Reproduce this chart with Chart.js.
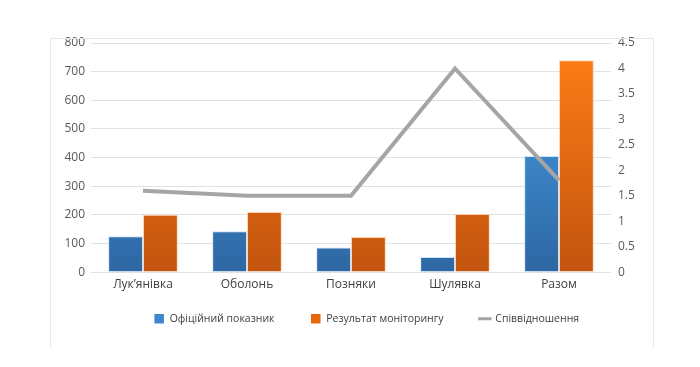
<!DOCTYPE html>
<html>
<head>
<meta charset="utf-8">
<script src="https://cdn.jsdelivr.net/npm/chart.js@4"></script>
<style>
  html, body { margin: 0; padding: 0; background: #fff; }
  #wrap { position: relative; width: 700px; height: 367px; }
  #frame { position: absolute; left: 50px; top: 38px; width: 602px; height: 308px;
           border: 1px solid #e6e6e6; border-bottom: none; pointer-events: none; }
</style>
</head>
<body>
<div id="wrap">
  <canvas id="chart" width="700" height="367"></canvas>
  <div id="frame"></div>
</div>
<script>
const districts = ["Лук’янівка", "Оболонь", "Позняки", "Шулявка", "Разом"];
const officialValues = [125, 143, 86, 53, 405];
const monitoringValues = [200, 210, 123, 203, 740];
const ratioValues = [1.6, 1.5, 1.5, 4.0, 1.8];
const leftTicks = [0, 100, 200, 300, 400, 500, 600, 700, 800];
const rightTicks = [0, 0.5, 1, 1.5, 2, 2.5, 3, 3.5, 4, 4.5];

const font = "'Open Sans', 'Noto Sans', sans-serif";

const gradient = (top, bottom) => (context) => {
    const area = context.chart.chartArea;
    if (!area) return top;
    const g = context.chart.ctx.createLinearGradient(0, area.top, 0, area.bottom);
    g.addColorStop(0, top);
    g.addColorStop(1, bottom);
    return g;
};

const legendColors = ["#3d86cf", "#e5680f", "#a5a5a5"];

// legend padding also sets the gap above the items, so pull the legend up a bit afterwards
const legendNudge = {
    id: "legendNudge",
    afterLayout(chart) {
        const legend = chart.legend;
        legend.top -= 19;
        legend.bottom -= 19;
        legend.left += 16;
        legend.right += 16;
    }
};

new Chart(document.querySelector("#chart").getContext("2d"), {
    data: {
        labels: districts,
        datasets: [{
            type: "line",
            label: "Співвідношення",
            data: ratioValues,
            yAxisID: "y1",
            borderColor: "#a5a5a5",
            borderWidth: 4,
            pointRadius: 0,
            tension: 0,
            order: 0
        }, {
            type: "bar",
            label: "Офіційний показник",
            data: officialValues,
            yAxisID: "y",
            backgroundColor: gradient("#4ba2ea", "#2d67a3"),
            borderColor: "rgba(190,220,250,0.8)",
            borderWidth: 1,
            order: 1
        }, {
            type: "bar",
            label: "Результат моніторингу",
            data: monitoringValues,
            yAxisID: "y",
            backgroundColor: gradient("#ff7f16", "#c2540e"),
            borderColor: "rgba(255,200,160,0.8)",
            borderWidth: 1,
            order: 1
        }]
    },
    options: {
        responsive: false,
        animation: false,
        categoryPercentage: 0.67,
        barPercentage: 1,
        layout: { padding: { left: 50, right: 49, top: 43, bottom: 14 } },
        scales: {
            x: {
                grid: { display: false, drawTicks: false },
                border: { display: false },
                ticks: { color: "#404040", font: { family: font, size: 12 }, padding: 5 }
            },
            y: {
                position: "left",
                min: 0,
                max: 800,
                afterBuildTicks: (scale) => { scale.ticks = leftTicks.map(v => ({ value: v })); },
                afterFit: (scale) => { scale.width = 41; },
                grid: { color: "#e1e1e1", drawTicks: false },
                border: { display: false },
                ticks: { color: "#595959", font: { family: font, size: 12 }, padding: 6 }
            },
            y1: {
                position: "right",
                min: 0,
                max: 4.5,
                afterBuildTicks: (scale) => { scale.ticks = rightTicks.map(v => ({ value: v })); },
                afterFit: (scale) => { scale.width = 40; },
                grid: { drawOnChartArea: false, drawTicks: false },
                border: { display: false },
                ticks: {
                    color: "#595959",
                    font: { family: font, size: 12 },
                    padding: 7,
                    callback: (value) => String(value)
                }
            }
        },
        plugins: {
            tooltip: { enabled: false },
            legend: {
                position: "bottom",
                labels: {
                    color: "#404040",
                    font: { family: font, size: 10.5 },
                    usePointStyle: true,
                    boxHeight: 9.5,
                    padding: 36,
                    generateLabels: (chart) => {
                        const order = [1, 2, 0];
                        return order.map((i, k) => ({
                            text: chart.data.datasets[i].label,
                            datasetIndex: i,
                            fillStyle: legendColors[k],
                            strokeStyle: legendColors[k],
                            lineWidth: i === 0 ? 3 : 0,
                            pointStyle: i === 0 ? "line" : "rect",
                            fontColor: "#404040",
                            hidden: false
                        }));
                    }
                }
            }
        }
    },
    plugins: [legendNudge]
});
</script>
</body>
</html>
